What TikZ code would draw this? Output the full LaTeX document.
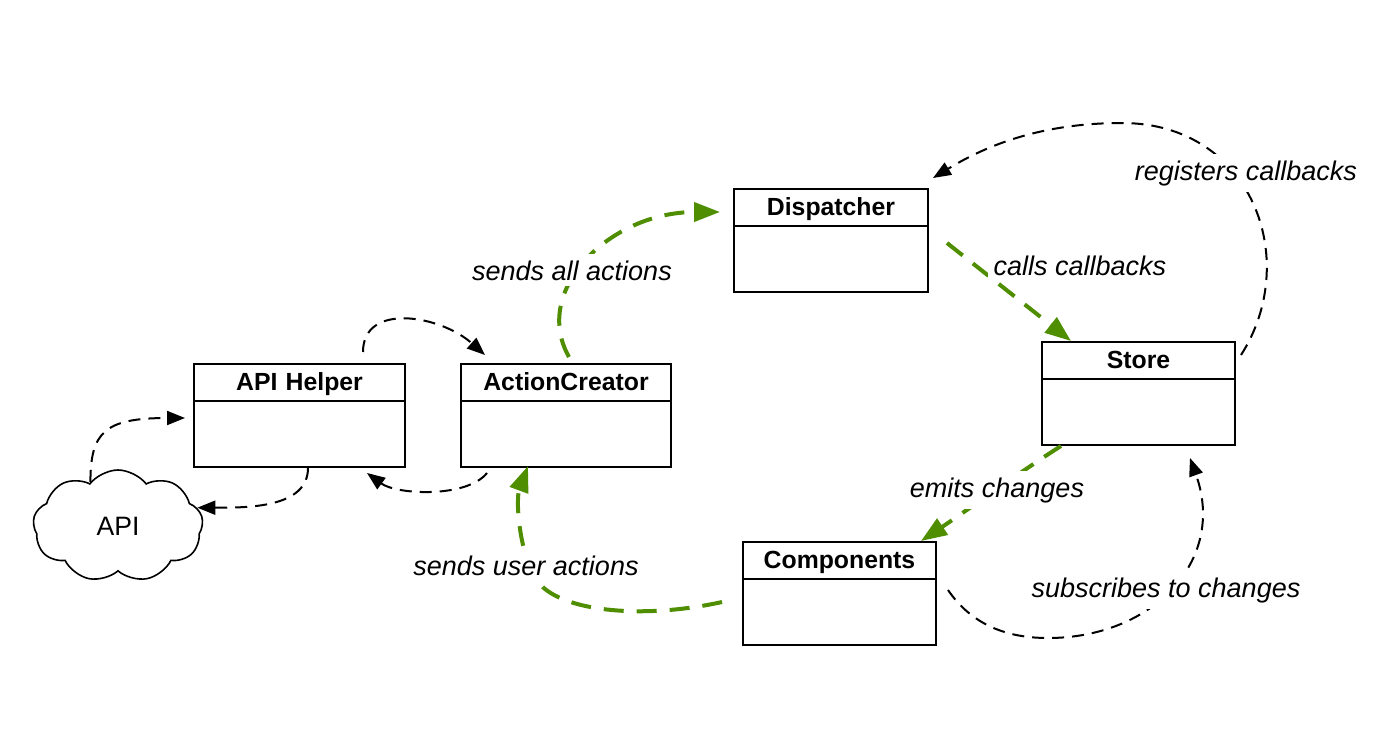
\documentclass[tikz,border=0pt]{standalone}
\usepackage{fontspec}
\setmainfont{Liberation Sans}
\usetikzlibrary{arrows.meta,shapes.multipart,shapes.symbols}
\definecolor{flowgreen}{RGB}{78,142,0}
\tikzset{classbox/.style={draw,line width=1pt,rectangle split,rectangle split parts=2,
inner xsep=0pt,inner ysep=0pt,text width=#1,align=center,anchor=north west,
font=\bfseries\fontsize{12.4pt}{14pt}\selectfont},
dep/.style={line width=1pt,dash pattern=on 6pt off 4pt,-{Triangle[length=9pt,width=7pt]}},
flow/.style={flowgreen,line width=2pt,dash pattern=on 10pt off 6.5pt,-{Triangle[length=13pt,width=9.5pt]}},
lbl/.style={fill=white,inner sep=3pt,anchor=base,font=\itshape\fontsize{13.5pt}{16pt}\selectfont}}
\newcommand{\classtitle}[1]{\rule[-5pt]{0pt}{17.5pt}#1\nodepart{two}\rule{0pt}{32pt}}

\begin{document}
\begin{tikzpicture}[x=0.5pt,y=-0.5pt]
	\useasboundingbox (0,0) rectangle (1383,741);
	\node[cloud,draw,line width=0.8pt,cloud puffs=9,cloud puff arc=105,aspect=1.5,
	minimum width=85pt,minimum height=56pt,font=\fontsize{13.3pt}{16pt}\selectfont] (api) at (118,526) {API};
	\node[classbox=105.5pt] (helper) at (193,363) {\classtitle{API Helper}};
	\node[classbox=105pt] (creator) at (460,363) {\classtitle{ActionCreator}};
	\node[classbox=97pt] (disp) at (733,188) {\classtitle{Dispatcher}};
	\node[classbox=96.5pt] (store) at (1041,341) {\classtitle{Store}};
	\node[classbox=96.5pt] (comp) at (742,541) {\classtitle{Components}};

	\draw[dep] (api.122) .. controls +(0,-50) and +(-80,0) .. ([xshift=-4pt,yshift=-27.5pt]helper.north west);
	\draw[dep] ([xshift=4.25pt]helper.south) .. controls +(0,40) and +(50,0) .. (api.13);
	\draw[dep] ([xshift=31.75pt,yshift=5.5pt]helper.north) .. controls +(0,-50) and +(-45,-40) .. ([xshift=12.5pt,yshift=4pt]creator.north west);
	\draw[dep] ([xshift=13.5pt,yshift=-2.5pt]creator.south west) .. controls +(-20,25) and +(30,22) .. ([xshift=-19.5pt,yshift=-2.5pt]helper.south east);
	\draw[flow] ([xshift=1.5pt,yshift=3pt]creator.north) .. controls +(-38,-67) and +(-110,0) .. ([xshift=-6.5pt,yshift=-12pt]disp.north west);
	\draw[flow] ([xshift=9pt,yshift=-27.5pt]disp.north east) -- ([xshift=15pt]store.north west);
	\draw[dep] ([xshift=2.5pt,yshift=-7pt]store.north east) .. controls +(61,-95) and +(130,0) .. ++(-119,-232)
		.. controls +(-80,0) and +(54,-33) .. ([xshift=2pt,yshift=5pt]disp.north east);
	\draw[flow] ([xshift=10pt]store.south west) .. controls +(-35,22) and +(45,-30) .. ([xshift=-8pt]comp.north east);
	\draw[dep] ([xshift=5.5pt,yshift=-24.5pt]comp.north east) .. controls +(24,35) and +(-41,0) .. ++(100,48)
		.. controls +(104,0) and +(37,103) .. ([xshift=-23pt,yshift=-6pt]store.south east);
	\draw[flow] ([xshift=-10pt,yshift=22pt]comp.south west) .. controls +(-72,16) and +(30,24) .. ++(-177,-13)
		.. controls +(-25,-20) and +(-13,35) .. ([xshift=34pt,yshift=1pt]creator.south west);

	\node[lbl] (sendall) at (572,280) {sends all actions};
	\node[lbl] (calls) at (1080,275) {calls callbacks};
	\node[lbl] (registers) at (1246,180) {registers callbacks};
	\node[lbl] (emits) at (997,497) {emits changes};
	\node[lbl] (subscribes) at (1166,597) {subscribes to changes};
	\node[lbl] (senduser) at (526,575) {sends user actions};
\end{tikzpicture}
\end{document}
